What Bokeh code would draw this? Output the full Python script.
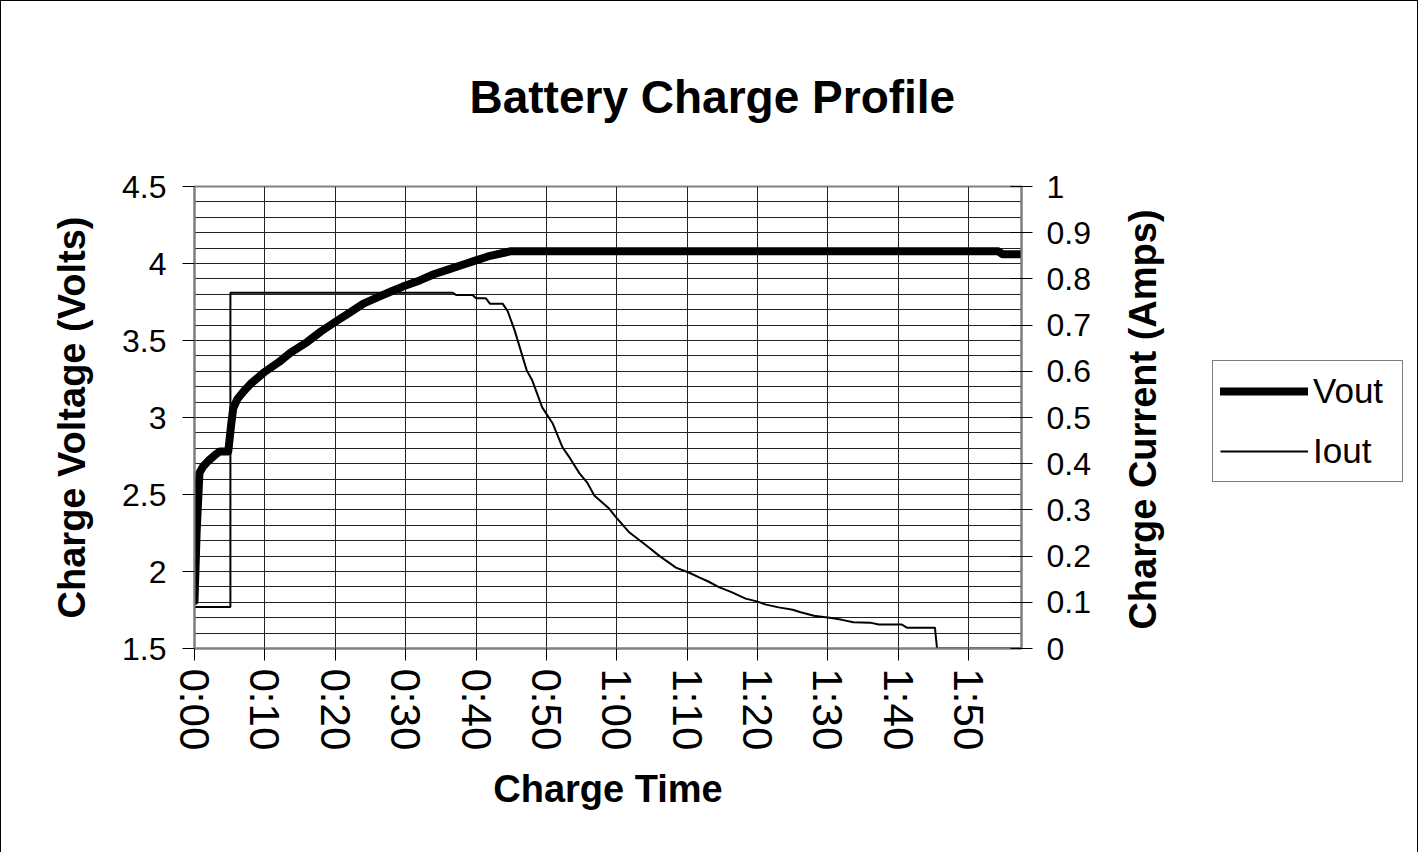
import math
from bokeh.plotting import figure
from bokeh.layouts import row
from bokeh.models import (Range1d, LinearAxis, FixedTicker, NumeralTickFormatter,
                          Legend, LegendItem, Label)
from bokeh.embed import file_html
from bokeh.resources import INLINE

# ---- data (minutes, volts) ----
time_v = [0.0, 0.3, 0.7, 1.2, 2.0, 3.0, 3.6, 4.8, 5.2, 5.5, 6.1, 7.0, 8.0, 9.8, 12.0,
          13.6, 16.0, 18.0, 20.3, 22.0, 24.0, 26.0, 28.0, 29.6, 32.0, 34.0, 36.0,
          38.0, 40.0, 42.0, 44.0, 45.0, 114.2, 114.8, 117.5]
vout = [1.81, 2.25, 2.64, 2.68, 2.72, 2.76, 2.78, 2.78, 2.95, 3.06, 3.12, 3.17, 3.22,
        3.29, 3.36, 3.42, 3.49, 3.56, 3.63, 3.68, 3.74, 3.78, 3.82, 3.85, 3.89, 3.93,
        3.96, 3.99, 4.02, 4.05, 4.07, 4.08, 4.08, 4.06, 4.06]

# ---- data (minutes, amps) ----
time_i = [0.0, 5.1, 5.1, 36.7, 37.2, 39.5, 40.0, 41.4, 42.0, 43.8, 44.5, 45.5, 47.2,
          48.0, 49.4, 50.9, 52.3, 53.3, 54.7, 55.8, 56.8, 58.9, 59.9, 61.8, 64.2,
          66.0, 68.4, 70.3, 71.7, 73.0, 74.5, 76.3, 78.3, 79.9, 81.2, 83.0, 85.0,
          86.0, 88.0, 90.5, 92.0, 93.6, 96.0, 97.2, 100.5, 101.2, 105.2, 105.5, 117.5]
iout = [0.09, 0.09, 0.77, 0.77, 0.765, 0.765, 0.758, 0.758, 0.746, 0.746, 0.73, 0.688,
        0.602, 0.58, 0.522, 0.487, 0.435, 0.413, 0.379, 0.359, 0.331, 0.303, 0.284,
        0.251, 0.223, 0.201, 0.175, 0.164, 0.154, 0.145, 0.133, 0.122, 0.108, 0.102,
        0.095, 0.089, 0.084, 0.079, 0.071, 0.066, 0.062, 0.057, 0.056, 0.052, 0.052,
        0.045, 0.045, 0.0, 0.0]

x_ticks = [0, 10, 20, 30, 40, 50, 60, 70, 80, 90, 100, 110]
x_tick_labels = ["0:00", "0:10", "0:20", "0:30", "0:40", "0:50",
                 "1:00", "1:10", "1:20", "1:30", "1:40", "1:50"]
volt_ticks = [1.5, 2.0, 2.5, 3.0, 3.5, 4.0, 4.5]
volt_minor = [1.6, 1.7, 1.8, 1.9, 2.1, 2.2, 2.3, 2.4, 2.6, 2.7, 2.8, 2.9, 3.1, 3.2,
              3.3, 3.4, 3.6, 3.7, 3.8, 3.9, 4.1, 4.2, 4.3, 4.4]
amp_ticks = [0.0, 0.1, 0.2, 0.3, 0.4, 0.5, 0.6, 0.7, 0.8, 0.9, 1.0]

FONT = "Liberation Sans"
W1, W2, H = 1100, 318, 852
FRAME_TOP, FRAME_BOTTOM = 186, 648

p = figure(width=W1, height=H, output_backend="svg", toolbar_location=None,
           x_range=Range1d(0, 117.5), y_range=Range1d(1.5, 4.5),
           min_border_left=194, min_border_right=W1 - 1021, min_border_top=FRAME_TOP,
           min_border_bottom=H - FRAME_BOTTOM, title="Battery Charge Profile")
p.background_fill_color = "white"
p.border_fill_color = None
p.outline_line_color = "#808080"
p.outline_line_width = 2

p.title.text_font = FONT
p.title.text_font_style = "bold"
p.title.text_font_size = "46px"
p.title.text_color = "black"
p.title.align = "left"
p.title.offset = 275
p.title.vertical_align = "top"
p.title.standoff = 124

p.extra_y_ranges = {"amps": Range1d(0, 1)}

# x axis
xa = p.xaxis[0]
xa.ticker = FixedTicker(ticks=x_ticks)
xa.major_label_overrides = {t: l for t, l in zip(x_ticks, x_tick_labels)}
xa.major_label_orientation = "vertical"
xa.axis_label = "Charge Time"

# left axis
ya = p.yaxis[0]
ya.ticker = FixedTicker(ticks=volt_ticks, minor_ticks=volt_minor)
ya.formatter = NumeralTickFormatter(format="0.[0]")
ya.axis_label = "Charge Voltage (Volts)"

# right axis (its title is drawn in the side panel figure)
ra = LinearAxis(y_range_name="amps", ticker=FixedTicker(ticks=amp_ticks),
                formatter=NumeralTickFormatter(format="0.[0]"))
p.add_layout(ra, "right")

for ax in (xa, ya, ra):
    ax.axis_line_color = "#808080"
    ax.axis_line_width = 2
    ax.major_tick_line_color = "black"
    ax.major_tick_line_width = 1
    ax.minor_tick_line_color = None
    ax.major_tick_in = 0
    ax.major_tick_out = 12
    ax.major_label_text_font = FONT
    ax.major_label_text_font_size = "32px"
    ax.major_label_text_color = "black"
    ax.axis_label_text_font = FONT
    ax.axis_label_text_font_style = "bold"
    ax.axis_label_text_font_size = "38px"
    ax.axis_label_text_color = "black"

xa.major_label_text_font_size = "42px"
ra.major_tick_in = 11
ra.major_tick_out = 11
ya.major_label_standoff = 16
ya.axis_label_standoff = 26
ra.major_label_standoff = 14
xa.major_label_standoff = 8
xa.axis_label_standoff = 15

# grids
p.xgrid.grid_line_color = "#222222"
p.xgrid.grid_line_width = 1
p.ygrid.grid_line_color = "#222222"
p.ygrid.grid_line_width = 1
p.ygrid.minor_grid_line_color = "#222222"
p.ygrid.minor_grid_line_width = 1

r_v = p.line(time_v, vout, line_color="black", line_width=8, line_join="round",
             line_cap="round")
r_i = p.line(time_i, iout, y_range_name="amps", line_color="black", line_width=2)

# ---- side panel: right axis title + legend (frame aligned with main plot) ----
p2 = figure(width=W2, height=H, output_backend="svg", toolbar_location=None,
            x_axis_type=None, y_axis_type=None, x_range=Range1d(-2, -1),
            y_range=Range1d(0, 1), min_border_left=0, min_border_right=0,
            min_border_top=FRAME_TOP, min_border_bottom=H - FRAME_BOTTOM)
p2.outline_line_color = None
p2.background_fill_color = None
p2.border_fill_color = None

# same series, out of this panel's view: they only supply the legend swatches
lg_v = p2.line(time_v, vout, line_color="black", line_width=8, line_cap="round")
lg_i = p2.line(time_i, iout, line_color="black", line_width=2)

right_title = Label(x=42, y=FRAME_BOTTOM - 419, x_units="screen", y_units="screen",
                    text="Charge Current (Amps)", angle=math.pi / 2,
                    text_align="center", text_baseline="middle",
                    text_font=FONT, text_font_style="bold",
                    text_font_size="38px", text_color="black")
p2.add_layout(right_title)

legend = Legend(items=[LegendItem(label="Vout", renderers=[lg_v]),
                       LegendItem(label="Iout", renderers=[lg_i])],
                location=(1212 - W1, FRAME_BOTTOM - 482))
legend.label_text_font = FONT
legend.label_text_font_size = "35px"
legend.label_text_color = "black"
legend.label_text_baseline = "middle"
legend.glyph_width = 88
legend.glyph_height = 46
legend.spacing = 14
legend.padding = 7
legend.margin = 0
legend.label_standoff = 5
legend.label_width = 82
legend.border_line_color = "black"
legend.border_line_width = 1
legend.background_fill_color = "white"
legend.background_fill_alpha = 1
p2.add_layout(legend, "center")

layout = row(p, p2, spacing=0)
layout.styles = {"background-color": "white",
                 "box-shadow": "inset 1px 1px 0 0 black, inset -1px 0 0 0 black"}
open("out.html", "w").write(file_html(layout, INLINE))
